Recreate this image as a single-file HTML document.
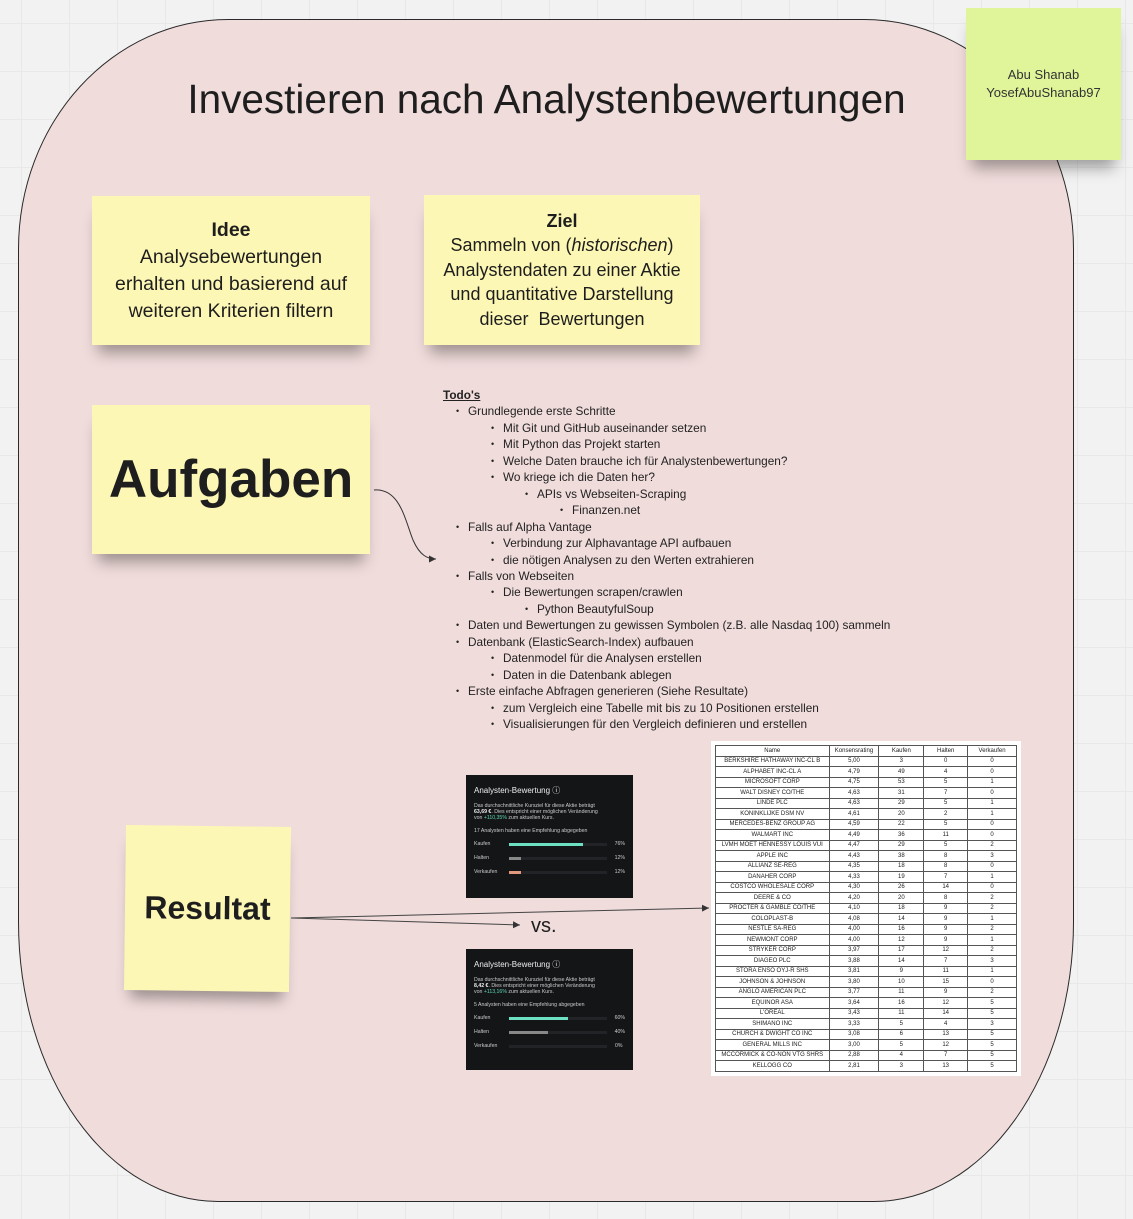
<!DOCTYPE html>
<html><head><meta charset="utf-8"><style>
*{margin:0;padding:0;box-sizing:border-box}
body{width:1133px;height:1219px;position:relative;overflow:hidden;font-family:"Liberation Sans",sans-serif;color:#1e1e1e;
background-color:#f2f2f2;background-image:linear-gradient(#e8e8e8 1px,transparent 1px),linear-gradient(90deg,#e8e8e8 1px,transparent 1px);background-size:48px 48px;background-position:-27px 23px}
.frame{position:absolute;left:18px;top:19px;width:1056px;height:1183px;background:#f0dcdb;border:1.5px solid #2a2a2a;border-radius:210px 210px 200px 200px / 230px 230px 280px 280px}
.abs{position:absolute}
.note{position:absolute;background:#fdf7b5;box-shadow:0 14px 14px -6px rgba(0,0,0,.35);text-align:center;display:flex;flex-direction:column;justify-content:center;align-items:center}
.todo{position:absolute;left:443px;top:387px;font-size:11.8px;line-height:16.45px;color:#222}
.todo div{position:relative;white-space:nowrap}
.todo .b::before{content:"•";position:absolute;left:-12px;font-size:9px}
.card{position:absolute;background:#141517;color:#ccc;font-size:5.2px;padding:10px 8px}
.card h4{font-size:8px;color:#eee;font-weight:normal;margin-bottom:7px}
.bar{display:flex;align-items:center;height:14px}
.bar span.l{width:35px}
.bar .t{width:98px;height:3px;background:#222326;position:relative;margin-right:8px}
.bar .t i{position:absolute;left:0;top:0;height:3px}
table{border-collapse:collapse;font-size:6px;background:#fff}
td{border:1px solid #555;text-align:center;height:10.5px;padding:0;color:#222}
</style></head><body>
<div class="frame"></div>
<div class="abs" style="left:0;width:1093px;top:76px;text-align:center;font-size:40.5px;color:#1e1e1e">Investieren nach Analystenbewertungen</div>

<div class="note" style="left:966px;top:8px;width:155px;height:152px;background:#e0f59a;font-size:13px;line-height:18px;color:#333">Abu Shanab<br>YosefAbuShanab97</div>

<div class="note" style="left:92px;top:196px;width:278px;height:149px;font-size:19.5px;line-height:27px">
<b>Idee</b>Analysebewertungen<br>erhalten und basierend auf<br>weiteren Kriterien filtern</div>
<div class="note" style="left:424px;top:195px;width:276px;height:150px;font-size:18px;line-height:24.5px">
<b>Ziel</b><span>Sammeln von (<i>historischen</i>)</span>Analystendaten zu einer Aktie<br>und quantitative Darstellung<br>dieser&nbsp; Bewertungen</div>
<div class="note" style="left:92px;top:405px;width:278px;height:149px;font-size:53px;font-weight:bold">Aufgaben</div>
<div class="note" style="left:125px;top:826px;width:165px;height:165px;font-size:32px;font-weight:bold;transform:rotate(0.7deg)">Resultat</div>

<svg class="abs" style="left:0;top:0" width="1133" height="1219">
<defs><marker id="a" markerWidth="8" markerHeight="8" refX="7" refY="4" orient="auto"><path d="M0,0.5 L7,4 L0,7.5 Z" fill="#333"/></marker></defs>
<path d="M374,490 C400,488 405,520 413,540 C420,556 428,559 436,559" fill="none" stroke="#333" stroke-width="1" marker-end="url(#a)"/>
<path d="M291,918 L709,908" fill="none" stroke="#444" stroke-width="1" marker-end="url(#a)"/>
<path d="M291,918 L520,925" fill="none" stroke="#444" stroke-width="1" marker-end="url(#a)"/>
</svg>
<div class="abs" style="left:531px;top:915px;font-size:20px">vs.</div>

<div class="todo">
<div style="font-weight:bold;text-decoration:underline">Todo's</div>
<div class="b" style="left:25px">Grundlegende erste Schritte</div>
<div class="b" style="left:60px">Mit Git und GitHub auseinander setzen</div>
<div class="b" style="left:60px">Mit Python das Projekt starten</div>
<div class="b" style="left:60px">Welche Daten brauche ich für Analystenbewertungen?</div>
<div class="b" style="left:60px">Wo kriege ich die Daten her?</div>
<div class="b" style="left:94px">APIs vs Webseiten-Scraping</div>
<div class="b" style="left:129px">Finanzen.net</div>
<div class="b" style="left:25px">Falls auf Alpha Vantage</div>
<div class="b" style="left:60px">Verbindung zur Alphavantage API aufbauen</div>
<div class="b" style="left:60px">die nötigen Analysen zu den Werten extrahieren</div>
<div class="b" style="left:25px">Falls von Webseiten</div>
<div class="b" style="left:60px">Die Bewertungen scrapen/crawlen</div>
<div class="b" style="left:94px">Python BeautyfulSoup</div>
<div class="b" style="left:25px">Daten und Bewertungen zu gewissen Symbolen (z.B. alle Nasdaq 100) sammeln</div>
<div class="b" style="left:25px">Datenbank (ElasticSearch-Index) aufbauen</div>
<div class="b" style="left:60px">Datenmodel für die Analysen erstellen</div>
<div class="b" style="left:60px">Daten in die Datenbank ablegen</div>
<div class="b" style="left:25px">Erste einfache Abfragen generieren (Siehe Resultate)</div>
<div class="b" style="left:60px">zum Vergleich eine Tabelle mit bis zu 10 Positionen erstellen</div>
<div class="b" style="left:60px">Visualisierungen für den Vergleich definieren und erstellen</div>
</div>

<div class="card" style="left:466px;top:775px;width:167px;height:123px">
<h4>Analysten-Bewertung ⓘ</h4>
<div>Das durchschnittliche Kursziel für diese Aktie beträgt<br><b style="color:#eee">63,69 €</b>. Dies entspricht einer möglichen Veränderung<br>von <span style="color:#5fd6b4">+110,35%</span> zum aktuellen Kurs.</div>
<div style="margin:7px 0 3px">17 Analysten haben eine Empfehlung abgegeben</div>
<div class="bar"><span class="l">Kaufen</span><span class="t"><i style="width:76%;background:#6ee0c2"></i></span>76%</div>
<div class="bar"><span class="l">Halten</span><span class="t"><i style="width:12%;background:#888"></i></span>12%</div>
<div class="bar"><span class="l">Verkaufen</span><span class="t"><i style="width:12%;background:#e0987c"></i></span>12%</div>
</div>
<div class="card" style="left:466px;top:949px;width:167px;height:121px">
<h4>Analysten-Bewertung ⓘ</h4>
<div>Das durchschnittliche Kursziel für diese Aktie beträgt<br><b style="color:#eee">8,42 €</b>. Dies entspricht einer möglichen Veränderung<br>von <span style="color:#5fd6b4">+113,16%</span> zum aktuellen Kurs.</div>
<div style="margin:7px 0 3px">5 Analysten haben eine Empfehlung abgegeben</div>
<div class="bar"><span class="l">Kaufen</span><span class="t"><i style="width:60%;background:#6ee0c2"></i></span>60%</div>
<div class="bar"><span class="l">Halten</span><span class="t"><i style="width:40%;background:#888"></i></span>40%</div>
<div class="bar"><span class="l">Verkaufen</span><span class="t"></span>0%</div>
</div>

<div class="abs" style="left:711px;top:741px;width:310px;height:335px;background:#fff;padding:4px 4px">
<table style="width:302px">
<colgroup><col style="width:114px"><col style="width:50px"><col style="width:45px"><col style="width:44px"><col style="width:49px"></colgroup>
<tr><td>Name</td><td>Konsensrating</td><td>Kaufen</td><td>Halten</td><td>Verkaufen</td></tr>
<tr><td>BERKSHIRE HATHAWAY INC-CL B</td><td>5,00</td><td>3</td><td>0</td><td>0</td></tr>
<tr><td>ALPHABET INC-CL A</td><td>4,79</td><td>49</td><td>4</td><td>0</td></tr>
<tr><td>MICROSOFT CORP</td><td>4,75</td><td>53</td><td>5</td><td>1</td></tr>
<tr><td>WALT DISNEY CO/THE</td><td>4,63</td><td>31</td><td>7</td><td>0</td></tr>
<tr><td>LINDE PLC</td><td>4,63</td><td>29</td><td>5</td><td>1</td></tr>
<tr><td>KONINKLIJKE DSM NV</td><td>4,61</td><td>20</td><td>2</td><td>1</td></tr>
<tr><td>MERCEDES-BENZ GROUP AG</td><td>4,59</td><td>22</td><td>5</td><td>0</td></tr>
<tr><td>WALMART INC</td><td>4,49</td><td>36</td><td>11</td><td>0</td></tr>
<tr><td>LVMH MOET HENNESSY LOUIS VUI</td><td>4,47</td><td>29</td><td>5</td><td>2</td></tr>
<tr><td>APPLE INC</td><td>4,43</td><td>38</td><td>8</td><td>3</td></tr>
<tr><td>ALLIANZ SE-REG</td><td>4,35</td><td>18</td><td>8</td><td>0</td></tr>
<tr><td>DANAHER CORP</td><td>4,33</td><td>19</td><td>7</td><td>1</td></tr>
<tr><td>COSTCO WHOLESALE CORP</td><td>4,30</td><td>26</td><td>14</td><td>0</td></tr>
<tr><td>DEERE &amp; CO</td><td>4,20</td><td>20</td><td>8</td><td>2</td></tr>
<tr><td>PROCTER &amp; GAMBLE CO/THE</td><td>4,10</td><td>18</td><td>9</td><td>2</td></tr>
<tr><td>COLOPLAST-B</td><td>4,08</td><td>14</td><td>9</td><td>1</td></tr>
<tr><td>NESTLE SA-REG</td><td>4,00</td><td>16</td><td>9</td><td>2</td></tr>
<tr><td>NEWMONT CORP</td><td>4,00</td><td>12</td><td>9</td><td>1</td></tr>
<tr><td>STRYKER CORP</td><td>3,97</td><td>17</td><td>12</td><td>2</td></tr>
<tr><td>DIAGEO PLC</td><td>3,88</td><td>14</td><td>7</td><td>3</td></tr>
<tr><td>STORA ENSO OYJ-R SHS</td><td>3,81</td><td>9</td><td>11</td><td>1</td></tr>
<tr><td>JOHNSON &amp; JOHNSON</td><td>3,80</td><td>10</td><td>15</td><td>0</td></tr>
<tr><td>ANGLO AMERICAN PLC</td><td>3,77</td><td>11</td><td>9</td><td>2</td></tr>
<tr><td>EQUINOR ASA</td><td>3,64</td><td>16</td><td>12</td><td>5</td></tr>
<tr><td>L'OREAL</td><td>3,43</td><td>11</td><td>14</td><td>5</td></tr>
<tr><td>SHIMANO INC</td><td>3,33</td><td>5</td><td>4</td><td>3</td></tr>
<tr><td>CHURCH &amp; DWIGHT CO INC</td><td>3,08</td><td>6</td><td>13</td><td>5</td></tr>
<tr><td>GENERAL MILLS INC</td><td>3,00</td><td>5</td><td>12</td><td>5</td></tr>
<tr><td>MCCORMICK &amp; CO-NON VTG SHRS</td><td>2,88</td><td>4</td><td>7</td><td>5</td></tr>
<tr><td>KELLOGG CO</td><td>2,81</td><td>3</td><td>13</td><td>5</td></tr>
</table>
</div>
</body></html>
